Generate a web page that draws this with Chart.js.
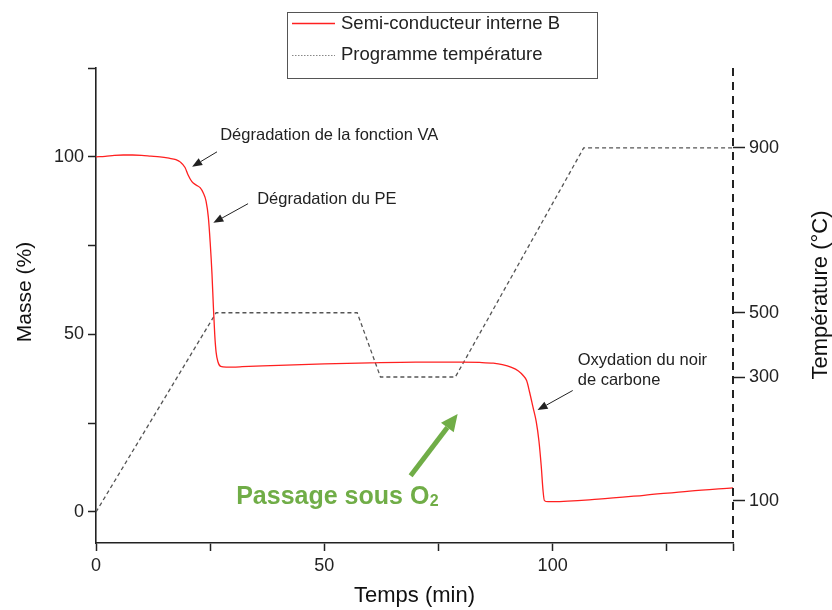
<!DOCTYPE html>
<html>
<head>
<meta charset="utf-8">
<script src="https://cdn.jsdelivr.net/npm/chart.js@4/dist/chart.umd.min.js"></script>
<style>
html,body{margin:0;padding:0;background:#fff;}
#wrap{width:832px;height:610px;position:relative;}
</style>
</head>
<body>
<div id="wrap"><canvas id="c" width="832" height="610"></canvas></div>
<script>
// ---------- DATA ----------
const massLabel = 'Semi-conducteur interne B';
const massTime  = [0, 2, 4, 6, 8, 10, 12, 14, 16, 17.5, 18.5, 19.5, 20.2, 21, 22, 22.8, 23.5, 24.1, 24.6, 25, 25.4, 25.7, 26, 26.3, 26.7, 27.3, 28.5, 32, 40, 50, 60, 70, 80, 84, 87, 89, 91, 92.5, 93.5, 94.3, 95, 95.7, 96.4, 97, 97.5, 97.9, 98.2, 99, 100, 110, 120, 130, 139.5];
const massValue = [100, 100.1, 100.4, 100.5, 100.5, 100.4, 100.2, 100, 99.6, 99.2, 98.5, 97, 94.8, 93, 92, 91.3, 89.8, 87.5, 83, 76, 67, 58, 50, 45, 42.3, 41, 40.8, 40.9, 41.3, 41.7, 42, 42.2, 42.2, 42.1, 41.9, 41.5, 40.7, 39.7, 38.5, 37, 33.5, 29.5, 25.5, 20, 13, 6, 3.2, 2.9, 2.9, 3.6, 4.7, 5.9, 6.8];

const tempLabel = 'Programme température';
const tempTime  = [0, 26.3, 57.2, 62.3, 78.7, 106.8, 139.5];
const tempValue = [25, 500, 500, 300, 300, 900, 900];

const xTickValues    = [0, 25, 50, 75, 100, 125, 139.5];
const xLabelValues   = [0, 50, 100];
const yTickValues    = [0, 25, 50, 75, 100, 125];
const yLabelValues   = [0, 50, 100];
const tempTickValues = [100, 300, 500, 900];

const annotationTexts = [
  'Dégradation de la fonction VA',
  'Dégradation du PE',
  'Oxydation du noir',
  'de carbone',
  'Passage sous O'
];

// ---------- temperature axis (hand-placed, non-linear in the original) ----------
// temperature value -> equivalent position on the mass axis
const tempAxisKnots = [[25, 0], [100, 3.1], [300, 38.0], [500, 56.1], [900, 102.5]];
function tempToMassPos(v) {
  const k = tempAxisKnots;
  let i = 0;
  if (v <= k[0][0]) i = 0;
  else if (v >= k[k.length - 1][0]) i = k.length - 2;
  else { while (i < k.length - 2 && v > k[i + 1][0]) i++; }
  const [a0, b0] = k[i], [a1, b1] = k[i + 1];
  return b0 + (v - a0) * (b1 - b0) / (a1 - a0);
}
function massPosToTemp(m) {
  const k = tempAxisKnots;
  let i = 0;
  if (m <= k[0][1]) i = 0;
  else if (m >= k[k.length - 1][1]) i = k.length - 2;
  else { while (i < k.length - 2 && m > k[i + 1][1]) i++; }
  const [a0, b0] = k[i], [a1, b1] = k[i + 1];
  return a0 + (m - b0) * (a1 - a0) / (b1 - b0);
}
class TempScale extends Chart.LinearScale {
  getPixelForValue(value) {
    if (value === null || value === undefined) return NaN;
    return this.chart.scales.y.getPixelForValue(tempToMassPos(value));
  }
  getValueForPixel(pixel) {
    return massPosToTemp(this.chart.scales.y.getValueForPixel(pixel));
  }
}
TempScale.id = 'tempscale';
TempScale.defaults = Chart.LinearScale.defaults;
Chart.register(TempScale);

// ---------- helpers ----------
const FONT = '"Liberation Sans", Arial, sans-serif';
const INK = '#222';

function arrow(ctx, x0, y0, x1, y1, color, lw, headLen, headW) {
  const ang = Math.atan2(y1 - y0, x1 - x0);
  const bx = x1 - headLen * Math.cos(ang), by = y1 - headLen * Math.sin(ang);
  ctx.save();
  ctx.strokeStyle = color; ctx.fillStyle = color; ctx.lineWidth = lw;
  ctx.beginPath(); ctx.moveTo(x0, y0); ctx.lineTo(bx, by); ctx.stroke();
  ctx.beginPath();
  ctx.moveTo(x1, y1);
  ctx.lineTo(bx + headW / 2 * Math.sin(ang), by - headW / 2 * Math.cos(ang));
  ctx.lineTo(bx - headW / 2 * Math.sin(ang), by + headW / 2 * Math.cos(ang));
  ctx.closePath(); ctx.fill();
  ctx.restore();
}

const decorPlugin = {
  id: 'decor',
  afterDraw(chart) {
    const ctx = chart.ctx;
    const xs = chart.scales.x, ys = chart.scales.y;
    const ca = chart.chartArea;
    const P = (t, m) => [xs.getPixelForValue(t), ys.getPixelForValue(m)];
    ctx.save();

    // dashed right (temperature) axis line
    ctx.strokeStyle = INK; ctx.lineWidth = 2; ctx.setLineDash([8, 6]);
    ctx.beginPath(); ctx.moveTo(ca.right, ca.top); ctx.lineTo(ca.right, ca.bottom); ctx.stroke();
    ctx.setLineDash([]);

    // axis titles
    ctx.fillStyle = '#111';
    ctx.textAlign = 'center'; ctx.textBaseline = 'middle';
    ctx.font = '22px ' + FONT;
    ctx.fillText('Temps (min)', (ca.left + ca.right) / 2, 596);
    ctx.font = '21px ' + FONT;
    ctx.save(); ctx.translate(25, 292); ctx.rotate(-Math.PI / 2); ctx.fillText('Masse (%)', 0, 0); ctx.restore();
    ctx.font = '22px ' + FONT;
    ctx.save(); ctx.translate(821, 295); ctx.rotate(-Math.PI / 2); ctx.fillText('Température (°C)', 0, 0); ctx.restore();

    // legend
    const ds = chart.data.datasets;
    ctx.strokeStyle = '#555'; ctx.lineWidth = 1;
    ctx.strokeRect(287.5, 12.5, 310, 66);
    ctx.textAlign = 'left'; ctx.textBaseline = 'middle';
    ctx.font = '18.5px ' + FONT; ctx.fillStyle = INK;
    ctx.beginPath(); ctx.strokeStyle = ds[0].borderColor; ctx.lineWidth = 1.3;
    ctx.moveTo(292, 23.5); ctx.lineTo(335, 23.5); ctx.stroke();
    ctx.fillText(ds[0].label, 341, 24);
    ctx.beginPath(); ctx.strokeStyle = '#888'; ctx.lineWidth = 1; ctx.setLineDash([1.5, 1.5]);
    ctx.moveTo(292, 55.5); ctx.lineTo(335, 55.5); ctx.stroke(); ctx.setLineDash([]);
    ctx.fillText(ds[1].label, 341, 55);

    // annotations
    ctx.font = '16.5px ' + FONT; ctx.fillStyle = INK;
    let p = P(27.2, 105.9); ctx.fillText(annotationTexts[0], p[0], p[1]);
    let a = P(26.5, 101.4), b = P(21.05, 97.2); arrow(ctx, a[0], a[1], b[0], b[1], '#222', 1, 10, 8);
    p = P(35.3, 87.9); ctx.fillText(annotationTexts[1], p[0], p[1]);
    a = P(33.3, 86.8); b = P(25.7, 81.4); arrow(ctx, a[0], a[1], b[0], b[1], '#222', 1, 10, 8);
    p = P(105.5, 42.6); ctx.fillText(annotationTexts[2], p[0], p[1]);
    p = P(105.5, 37.0); ctx.fillText(annotationTexts[3], p[0], p[1]);
    a = P(104.4, 34.2); b = P(96.7, 28.7); arrow(ctx, a[0], a[1], b[0], b[1], '#222', 1, 10, 8);

    // green note
    const green = '#70ad47';
    ctx.fillStyle = green;
    ctx.font = 'bold 25px ' + FONT;
    p = P(30.7, 4.2);
    ctx.fillText(annotationTexts[4], p[0], p[1]);
    const w = ctx.measureText(annotationTexts[4]).width;
    ctx.font = 'bold 16px ' + FONT;
    ctx.fillText('2', p[0] + w + 0.5, p[1] + 5);
    a = P(68.9, 10.2); b = P(79.2, 27.6);
    arrow(ctx, a[0], a[1], b[0], b[1], green, 5, 17, 16);

    ctx.restore();
  }
};

function pts(xArr, yArr) { return xArr.map((x, i) => ({x: x, y: yArr[i]})); }

const tickFont = {family: FONT, size: 18};

new Chart(document.getElementById('c'), {
  type: 'line',
  data: {
    datasets: [
      {
        label: massLabel,
        data: pts(massTime, massValue),
        borderColor: '#ff2020',
        borderWidth: 1.3,
        pointRadius: 0,
        cubicInterpolationMode: 'monotone',
        yAxisID: 'y',
        order: 1
      },
      {
        label: tempLabel,
        data: pts(tempTime, tempValue),
        borderColor: '#555',
        borderWidth: 1.3,
        borderDash: [4, 3],
        pointRadius: 0,
        tension: 0,
        yAxisID: 'y2',
        order: 2
      }
    ]
  },
  options: {
    responsive: false,
    animation: false,
    devicePixelRatio: 1,
    layout: {padding: {top: 68, left: 0, right: 0, bottom: 0}},
    plugins: {legend: {display: false}, tooltip: {enabled: false}},
    scales: {
      x: {
        type: 'linear', position: 'bottom', min: 0, max: 139.5,
        afterBuildTicks: s => { s.ticks = xTickValues.map(v => ({value: v})); },
        afterFit: s => { s.height = 67; },
        ticks: {
          autoSkip: false, maxRotation: 0, padding: 4, color: INK, font: tickFont,
          callback: v => xLabelValues.includes(v) ? String(v) : ''
        },
        grid: {drawOnChartArea: false, tickLength: 8, tickWidth: 1.5, tickColor: INK},
        border: {color: INK, width: 1.6}
      },
      y: {
        type: 'linear', position: 'left', min: -8.73, max: 125,
        afterBuildTicks: s => { s.ticks = yTickValues.map(v => ({value: v})); },
        afterFit: s => { s.width = 96; },
        ticks: {
          autoSkip: false, padding: 4, color: INK, font: tickFont,
          callback: v => yLabelValues.includes(v) ? String(v) : ''
        },
        grid: {drawOnChartArea: false, tickLength: 8, tickWidth: 1.5, tickColor: INK},
        border: {color: INK, width: 1.6}
      },
      y2: {
        type: 'tempscale', position: 'right', min: 0, max: 1000,
        afterBuildTicks: s => { s.ticks = tempTickValues.map(v => ({value: v})); },
        afterFit: s => { s.width = 99; },
        ticks: {autoSkip: false, padding: 4, color: INK, font: tickFont, callback: v => String(v)},
        grid: {drawOnChartArea: false, tickLength: 12, tickWidth: 1.5, tickColor: INK},
        border: {display: false}
      }
    }
  },
  plugins: [decorPlugin]
});
</script>
</body>
</html>
